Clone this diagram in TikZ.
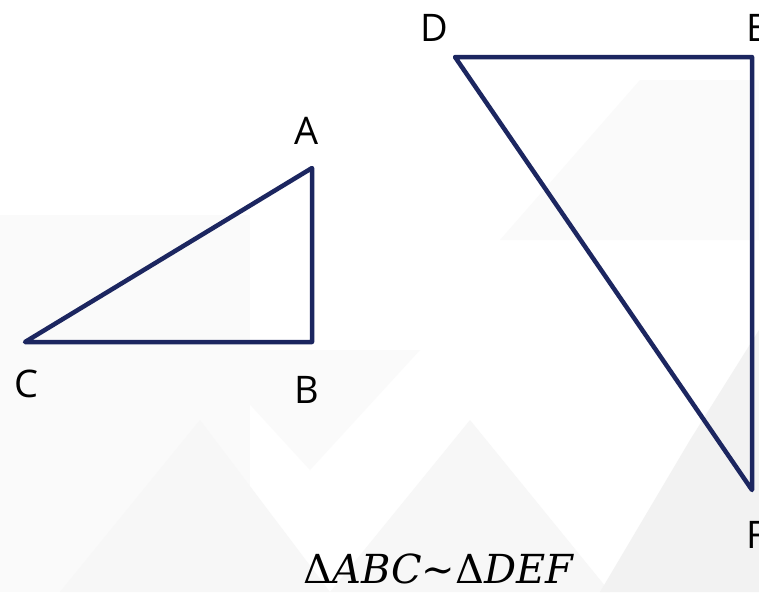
\documentclass[tikz,border=0pt]{standalone}
\usepackage{fontspec}
\setmainfont{Open Sans}
\newfontfamily\capfont{DejaVu Serif}
\begin{document}
\begin{tikzpicture}[x=1pt,y=-1pt,
  tri/.style={draw=navy, line width=4.5pt, line join=round},
  vlabel/.style={font=\fontsize{38}{40}\selectfont, text=black, inner sep=0pt}]
\definecolor{navy}{HTML}{1C2660}
\useasboundingbox (0,0) rectangle (759,592);
\fill[white] (0,0) rectangle (759,592);
% faint background
\fill[black!2] (0,215) -- (250,215) -- (250,592) -- (0,592) -- cycle;
\fill[black!3] (60,592) -- (200,420) -- (330,592) -- cycle;
\fill[black!3] (330,592) -- (470,420) -- (610,592) -- cycle;
\fill[black!5] (600,592) -- (690,440) -- (759,330) -- (759,592) -- cycle;
\fill[black!2] (500,240) -- (759,240) -- (759,80) -- (640,80) -- cycle;
\fill[black!2] (200,350) -- (310,470) -- (420,350) -- cycle;
% triangles
\coordinate (A) at (312,168);
\coordinate (B) at (312,342);
\coordinate (C) at (25,342);
\coordinate (D) at (455,57);
\coordinate (E) at (752,57);
\coordinate (F) at (752,490);
\draw[tri] (A) -- (B) -- (C) -- cycle;
\draw[tri] (D) -- (E) -- (F) -- cycle;
\node[vlabel] (lA) at (307,131) {A};
\node[vlabel] (lB) at (307,390) {B};
\node[vlabel] (lC) at (26,384) {C};
\node[vlabel] (lD) at (434,28) {D};
\node[vlabel, anchor=west] (lE) at (746,28) {E};
\node[vlabel, anchor=west] (lF) at (746,535) {F};
\node[font=\capfont\fontsize{40}{42}\selectfont, inner sep=0pt, anchor=base] (cap) at (439,583) {Δ\textit{ABC}∼Δ\textit{DEF}};
\end{tikzpicture}
\end{document}
